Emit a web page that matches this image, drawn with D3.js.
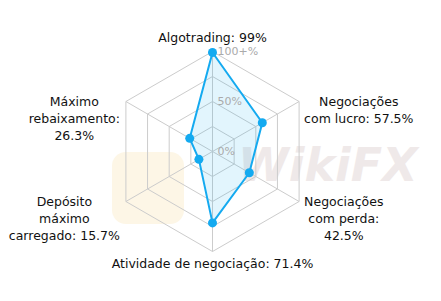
<!DOCTYPE html>
<html>
<head>
<meta charset="utf-8">
<script src="https://cdn.jsdelivr.net/npm/d3@7"></script>
<style>
  body { margin: 0; background: #fff; }
  svg { display: block; font-family: "DejaVu Sans", sans-serif; }
</style>
</head>
<body>
<section></section>
<script>
// chart data
const axisNames = [
  "Algotrading",
  "Negociações com lucro",
  "Negociações com perda",
  "Atividade de negociação",
  "Depósito máximo carregado",
  "Máximo rebaixamento",
];
const values = [99, 57.5, 42.5, 71.4, 15.7, 26.3];
const labelLines = [
  ["Algotrading: 99%"],
  ["Negociações", "com lucro: 57.5%"],
  ["Negociações", "com perda:", "42.5%"],
  ["Atividade de negociação: 71.4%"],
  ["Depósito", "máximo", "carregado: 15.7%"],
  ["Máximo", "rebaixamento:", "26.3%"],
];
const levels = [25, 50, 75, 100];
const tickLabels = [
  { v: 100, t: "100+%" },
  { v: 50, t: "50%" },
  { v: 0, t: "0%" },
];

const width = 441;
const height = 301;
const cx = 212.5;
const cy = 151.5;
const radius = 100;
const blue = "#14aaf0";

const svg = d3
  .select("section")
  .append("svg")
  .attr("width", width)
  .attr("height", height);

const r = d3.scaleLinear().domain([0, 100]).range([0, radius]);
const angle = (i) => (i * 2 * Math.PI) / axisNames.length;
const pt = (i, v) => [cx + r(v) * Math.sin(angle(i)), cy - r(v) * Math.cos(angle(i))];

// watermark (faint)
const wm = svg.append("g").attr("opacity", 0.45);
wm.append("rect")
  .attr("x", 112).attr("y", 152).attr("width", 72).attr("height", 72)
  .attr("rx", 14)
  .attr("fill", "#fbedc9");
wm.append("text")
  .attr("x", 238).attr("y", 181)
  .attr("font-size", 46)
  .attr("font-weight", "bold")
  .attr("font-style", "italic")
  .attr("fill", "#ddd0cf")
  .text("WikiFX");

// grid rings
const grid = svg.append("g").attr("fill", "none").attr("stroke", "#cccccc").attr("stroke-width", 1);
grid.selectAll("polygon")
  .data(levels)
  .join("polygon")
  .attr("points", (lv) => axisNames.map((d, i) => pt(i, lv).join(",")).join(" "));
grid.selectAll("line")
  .data(axisNames)
  .join("line")
  .attr("x1", cx).attr("y1", cy)
  .attr("x2", (d, i) => pt(i, 100)[0])
  .attr("y2", (d, i) => pt(i, 100)[1]);

// area
const line = d3.line().curve(d3.curveLinearClosed);
const pts = values.map((v, i) => pt(i, v));
svg.append("path")
  .attr("d", line(pts))
  .attr("fill", "rgba(20,170,240,0.12)")
  .attr("stroke", blue)
  .attr("stroke-width", 2)
  .attr("stroke-linejoin", "round");

// tick labels on the top axis
svg.append("g")
  .selectAll("text")
  .data(tickLabels)
  .join("text")
  .attr("x", cx + 5)
  .attr("y", (d) => cy - r(d.v))
  .attr("dy", "0.35em")
  .attr("font-size", 11)
  .attr("fill", "#aaaaaa")
  .text((d) => d.t);

// points
svg.append("g")
  .selectAll("circle")
  .data(pts)
  .join("circle")
  .attr("cx", (d) => d[0])
  .attr("cy", (d) => d[1])
  .attr("r", 4.5)
  .attr("fill", blue);

// axis labels
const lineH = 17;
labelLines.forEach((lines, i) => {
  const [vx, vy] = pt(i, 100);
  const g = svg.append("g");
  const t = g.append("text").attr("font-size", 12.5).attr("fill", "#111").attr("text-anchor", "middle");
  lines.forEach((s, k) => t.append("tspan").attr("x", 0).attr("y", k * lineH).text(s));
  const w = d3.max(t.selectAll("tspan").nodes(), (n) => n.getComputedTextLength());
  const s = Math.sin(angle(i));
  let x = vx, y = vy;
  if (Math.abs(s) < 0.01) {
    y = Math.cos(angle(i)) > 0 ? vy - 10 : vy + 16;
  } else {
    x = s > 0 ? vx + 5 + w / 2 : vx - 6 - w / 2;
    y = vy + 4;
  }
  g.attr("transform", `translate(${x}, ${y})`);
});
</script>
</body>
</html>
